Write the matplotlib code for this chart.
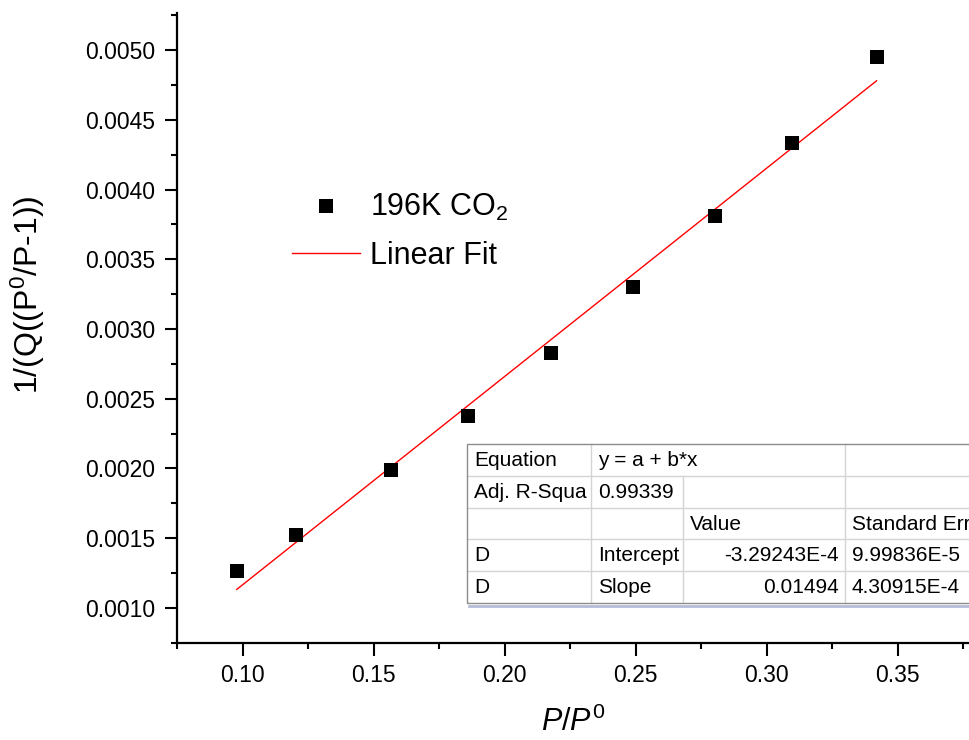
import matplotlib
matplotlib.use("Agg")
import matplotlib.pyplot as plt
from matplotlib.ticker import MultipleLocator, FormatStrFormatter
from matplotlib.lines import Line2D
from matplotlib.patches import Rectangle

plt.rcParams['font.family'] = ['Liberation Sans', 'DejaVu Sans']
plt.rcParams['mathtext.fontset'] = 'custom'
plt.rcParams['mathtext.rm'] = 'Liberation Sans'
plt.rcParams['mathtext.it'] = 'Liberation Sans:italic'
plt.rcParams['mathtext.bf'] = 'Liberation Sans:bold'

# ---------------- data ----------------
p_rel = [0.0978, 0.1205, 0.1565, 0.1861, 0.2178, 0.2490, 0.2802, 0.3098, 0.3420]
bet_y = [0.001261, 0.001526, 0.001988, 0.002377, 0.002829, 0.003300, 0.003814, 0.004331, 0.004952]
fit_intercept = -3.29243e-4
fit_slope = 0.01494

series_label = "196K CO$_2$"
fit_label = "Linear Fit"
x_label = r"$P/P^{\mathrm{0}}$"
y_label = r"1/(Q((P$^{0}$/P-1))"

table_col0 = ["Equation", "Adj. R-Squa", "", "D", "D"]
table_col1 = ["y = a + b*x", "0.99339", "", "Intercept", "Slope"]
table_col2 = ["", "", "Value", "-3.29243E-4", "0.01494"]
table_col3 = ["", "", "Standard Err", "9.99836E-5", "4.30915E-4"]

# ---------------- figure ----------------
W, H = 969, 740
fig = plt.figure(figsize=(W / 100, H / 100), dpi=100)

def fx(px):
    return px / W

def fy(py):
    return 1 - py / H

ax_l, ax_r, ax_t, ax_b = 177, 969, 13.3, 642.7
ax = fig.add_axes([fx(ax_l), fy(ax_b), (ax_r - ax_l) / W, (ax_b - ax_t) / H])

xmin = 0.075
xmax = xmin + (ax_r - ax_l) / 2620.0
ymin = 0.00075
ymax = ymin + (ax_b - ax_t) * 0.0005 / 69.71
ax.set_xlim(xmin, xmax)
ax.set_ylim(ymin, ymax)

for s in ['top', 'right']:
    ax.spines[s].set_visible(False)
for s in ['left', 'bottom']:
    ax.spines[s].set_linewidth(1.6)
    ax.spines[s].set_color('black')

ax.xaxis.set_major_locator(MultipleLocator(0.05))
ax.xaxis.set_minor_locator(MultipleLocator(0.025))
ax.yaxis.set_major_locator(MultipleLocator(0.0005))
ax.yaxis.set_minor_locator(MultipleLocator(0.00025))
ax.xaxis.set_major_formatter(FormatStrFormatter('%.2f'))
ax.yaxis.set_major_formatter(FormatStrFormatter('%.4f'))
ax.tick_params(which='major', direction='out', length=9, width=1.5, labelsize=16.5,
               top=False, right=False)
ax.tick_params(which='minor', direction='out', length=4.5, width=1.5,
               top=False, right=False)
ax.tick_params(axis='y', which='major', pad=7)
ax.tick_params(axis='x', which='major', pad=6)

# data
ax.plot(p_rel, bet_y, linestyle='none', marker='s', markersize=10,
        color='black', markeredgewidth=0, zorder=3, label=series_label)
fx0, fx1 = min(p_rel), max(p_rel)
ax.plot([fx0, fx1], [fit_intercept + fit_slope * fx0, fit_intercept + fit_slope * fx1],
        color='red', linewidth=1.0, zorder=2, label=fit_label)

# labels
ax.set_xlabel(x_label, fontsize=22)
ax.set_ylabel(y_label, fontsize=23)
ax.xaxis.set_label_coords(0.5, (ax_b - 707) / (ax_b - ax_t))
ax.yaxis.set_label_coords((47 - ax_l) / (ax_r - ax_l), (ax_b - 295) / (ax_b - ax_t))

# legend
leg = ax.legend(loc='upper left', frameon=False, fontsize=22,
                bbox_to_anchor=(fx(277), fy(177)), bbox_transform=fig.transFigure,
                handlelength=2.2, handletextpad=0.33, labelspacing=0.58,
                borderpad=0, markerscale=0.95)

# ---------------- table ----------------
col_edges = [467, 590.7, 683, 845, 1010]
row_top = 444
row_h = 31.8
nrows = 5
row_edges = [row_top + i * row_h for i in range(nrows + 1)]
grid_c = '#d4d4d4'
t_fs = 15

# background
fig.patches.append(Rectangle((fx(col_edges[0]), fy(row_edges[-1])),
                             (col_edges[-1] - col_edges[0]) / W,
                             (row_edges[-1] - row_edges[0]) / H,
                             transform=fig.transFigure, facecolor='white',
                             edgecolor='none', zorder=5))
# shadow
fig.lines.append(Line2D([fx(469), fx(1010)], [fy(row_edges[-1] + 2.5)] * 2,
                        transform=fig.transFigure, color='#b4bcd6', lw=2.0, zorder=5))
# horizontal inner lines
for y in row_edges[1:-1]:
    fig.lines.append(Line2D([fx(col_edges[0]), fx(col_edges[-1])], [fy(y)] * 2,
                            transform=fig.transFigure, color=grid_c, lw=1.0, zorder=6))
# vertical inner lines
for ci in range(1, len(col_edges) - 1):
    for ri in range(nrows):
        if ri == 0 and ci == 2:
            continue
        fig.lines.append(Line2D([fx(col_edges[ci])] * 2, [fy(row_edges[ri]), fy(row_edges[ri + 1])],
                                transform=fig.transFigure, color=grid_c, lw=1.0, zorder=6))
# outer border
fig.patches.append(Rectangle((fx(col_edges[0]), fy(row_edges[-1])),
                             (col_edges[-1] - col_edges[0]) / W,
                             (row_edges[-1] - row_edges[0]) / H,
                             transform=fig.transFigure, facecolor='none',
                             edgecolor='#8c8c8c', lw=1.0, zorder=7))

for ri in range(nrows):
    yc = fy(row_edges[ri] + row_h / 2 + 0.5)
    for ci, col in enumerate([table_col0, table_col1, table_col2, table_col3]):
        txt = col[ri]
        if not txt:
            continue
        if ci == 2 and ri >= 3:
            fig.text(fx(col_edges[3] - 6), yc, txt, ha='right', va='center',
                     fontsize=t_fs, zorder=8)
        else:
            fig.text(fx(col_edges[ci] + 7), yc, txt, ha='left', va='center',
                     fontsize=t_fs, zorder=8)

fig.savefig("out.png", dpi=100)
